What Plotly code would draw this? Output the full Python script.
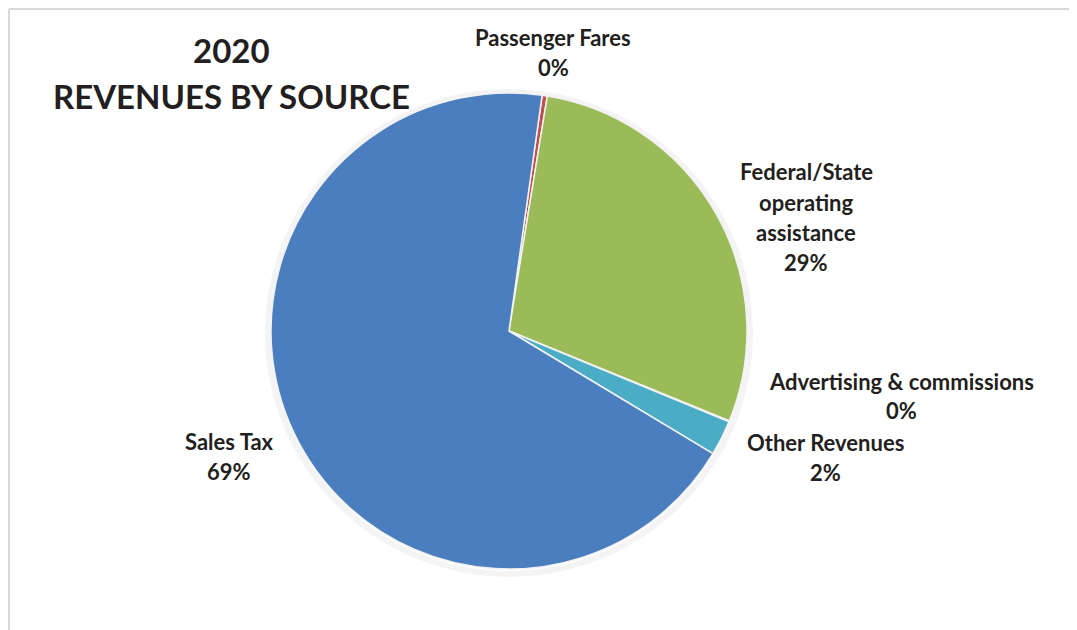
import plotly.graph_objects as go

# ---- data ----
categories = ["Passenger Fares", "Federal/State operating assistance",
              "Advertising & commissions", "Other Revenues", "Sales Tax"]
label_lines = [["Passenger Fares"], ["Federal/State", "operating", "assistance"],
               ["Advertising & commissions"], ["Other Revenues"], ["Sales Tax"]]
values = [0.35, 28.6, 0.05, 2.4, 68.6]
colors = ["#C0504D", "#9BBB59", "#8064A2", "#4BACC6", "#4A7EBE"]
title_lines = ["2020", "REVENUES BY SOURCE"]

W, H = 1077, 630
OFF = 8  # page body margin
FONT = "Lato"
TXT = "#231F20"


def px(x):
    return (x - OFF) / W


def py(y):
    return 1 - (y - OFF) / H


fig = go.Figure()
fig.add_trace(go.Pie(
    labels=categories, values=values, sort=False, direction="clockwise",
    rotation=8.0, marker=dict(colors=colors, line=dict(color="#F2F2F2", width=1.5)),
    textinfo="none", hoverinfo="label+percent", showlegend=False,
    domain=dict(x=[px(271), px(747)], y=[py(569), py(93)]),
))

total = sum(values)
pcts = [f"{round(v / total * 100):.0f}%" for v in values]

# label anchor: (centre x, y of first line) in reference pixels
label_pos = [(553, 37), (806, 172), (901, 381), (825, 442), (229, 441)]
LINE = 30
annotations = []
for lines, pct, (cx, y0) in zip(label_lines, pcts, label_pos):
    for i, t in enumerate(lines + [pct]):
        annotations.append(dict(
            x=px(cx), y=py(y0 + i * LINE), xref="paper", yref="paper",
            text=t, showarrow=False, xanchor="center", yanchor="middle",
            font=dict(family=FONT, size=22, color=TXT, weight="bold"),
        ))
for t, ty in zip(title_lines, [50, 96]):
    annotations.append(dict(
        x=px(232), y=py(ty), xref="paper", yref="paper",
        text=t, showarrow=False, xanchor="center", yanchor="middle",
        font=dict(family=FONT, size=33, color=TXT, weight="bold"),
    ))

shapes = [
    dict(type="circle", xref="paper", yref="paper", layer="below",
         x0=px(268), x1=px(750), y0=py(574), y1=py(92),
         line=dict(color="rgba(0,0,0,0.045)", width=6), fillcolor="rgba(0,0,0,0)"),
    # chart frame (top and left edges)
    dict(type="line", xref="paper", yref="paper", layer="above",
         x0=px(9), x1=1, y0=py(9), y1=py(9),
         line=dict(color="#D9D9D9", width=2)),
    dict(type="line", xref="paper", yref="paper", layer="above",
         x0=px(9), x1=px(9), y0=py(9), y1=0,
         line=dict(color="#D9D9D9", width=2)),
]

fig.update_layout(
    width=W, height=H, margin=dict(l=0, r=0, t=0, b=0),
    paper_bgcolor="white", plot_bgcolor="white",
    annotations=annotations, shapes=shapes,
    font=dict(family=FONT, color=TXT),
)
fig.write_html("out.html")
